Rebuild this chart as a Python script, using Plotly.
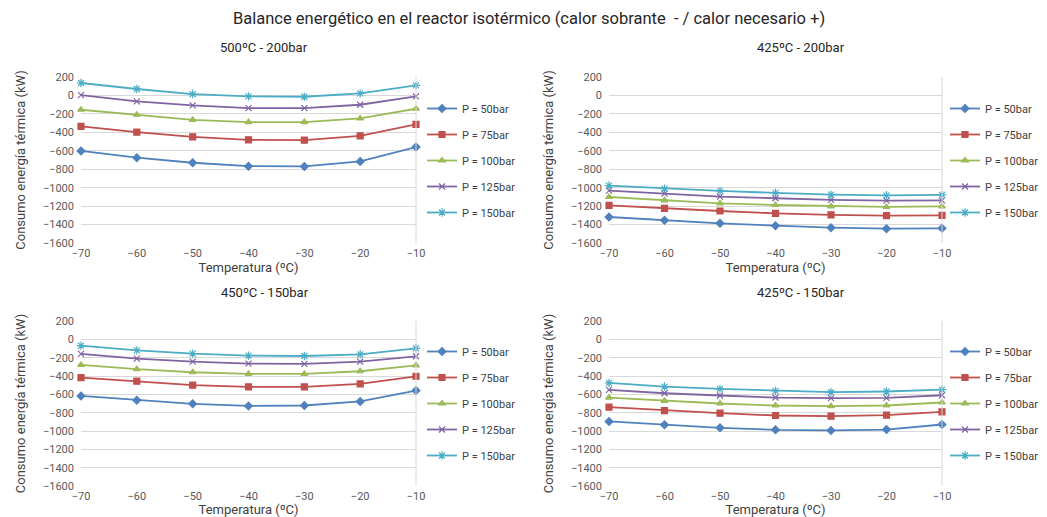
import plotly.graph_objects as go

W, H = 1047, 517

temperaturas = [-70, -60, -50, -40, -30, -20, -10]
presiones = ["P = 50bar", "P = 75bar", "P = 100bar", "P = 125bar", "P = 150bar"]

# 500ºC - 200bar
c500_200_p50 = [-602, -675, -730, -767, -770, -716, -560]
c500_200_p75 = [-335, -398, -449, -481, -485, -438, -314]
c500_200_p100 = [-155, -209, -264, -289, -289, -249, -144]
c500_200_p125 = [4, -64, -108, -137, -137, -101, -10]
c500_200_p150 = [135, 70, 15, -10, -14, 22, 109]

# 425ºC - 200bar
c425_200_p50 = [-1318, -1354, -1387, -1412, -1434, -1445, -1441]
c425_200_p75 = [-1191, -1224, -1253, -1278, -1296, -1304, -1300]
c425_200_p100 = [-1101, -1137, -1170, -1188, -1202, -1209, -1202]
c425_200_p125 = [-1032, -1064, -1097, -1115, -1133, -1140, -1137]
c425_200_p150 = [-977, -1010, -1035, -1057, -1075, -1083, -1079]

# 450ºC - 150bar
c450_150_p50 = [-617, -664, -704, -726, -722, -678, -559]
c450_150_p75 = [-417, -457, -500, -519, -519, -486, -403]
c450_150_p100 = [-279, -326, -359, -377, -377, -348, -283]
c450_150_p125 = [-159, -210, -243, -265, -268, -243, -185]
c450_150_p150 = [-69, -120, -156, -178, -182, -163, -98]

# 425ºC - 150bar
c425_150_p50 = [-896, -933, -965, -987, -994, -984, -929]
c425_150_p75 = [-740, -777, -806, -831, -838, -827, -791]
c425_150_p100 = [-635, -671, -700, -722, -729, -722, -689]
c425_150_p125 = [-551, -588, -613, -635, -642, -639, -610]
c425_150_p150 = [-475, -515, -540, -562, -577, -569, -548]

paneles = [
    ("500ºC - 200bar", [c500_200_p50, c500_200_p75, c500_200_p100, c500_200_p125, c500_200_p150]),
    ("425ºC - 200bar", [c425_200_p50, c425_200_p75, c425_200_p100, c425_200_p125, c425_200_p150]),
    ("450ºC - 150bar", [c450_150_p50, c450_150_p75, c450_150_p100, c450_150_p125, c450_150_p150]),
    ("425ºC - 150bar", [c425_150_p50, c425_150_p75, c425_150_p100, c425_150_p125, c425_150_p150]),
]

colores = ["#4F81BD", "#C0504D", "#9BBB59", "#8064A2", "#4BACC6"]
simbolos = ["diamond", "square", "triangle-up", "x-thin-open", "asterisk-open"]
tamanos = [6, 6, 6, 6, 7]

# pixel boxes of each plot area (left, right, top, bottom), legend and title spots
cajas = [(81, 416, 77, 243), (609, 942, 77, 243), (81, 416, 321, 486), (609, 942, 321, 486)]
leyendas = [(422, 94), (945, 94), (422, 337), (945, 337)]
titulos_xy = [(264, 47), (801, 47), (265, 292), (801, 292)]

GRIS = "#595959"
fuente = "Roboto"

fig = go.Figure()
layout = {}
anotaciones = []
formas = []

for i, (titulo, series) in enumerate(paneles):
    n = "" if i == 0 else str(i + 1)
    leg = "legend" if i == 0 else "legend" + str(i + 1)
    for k in range(5):
        fig.add_trace(go.Scatter(
            x=temperaturas, y=series[k], name=presiones[k],
            mode="lines+markers",
            line=dict(color=colores[k], width=1.8),
            marker=dict(symbol=simbolos[k], size=tamanos[k], color=colores[k],
                        line=dict(color=colores[k], width=1.2)),
            xaxis="x" + n, yaxis="y" + n, legend=leg, cliponaxis=False,
            legendgroup=str(i) + "_" + str(k),
        ))
    l, r, t, b = cajas[i]
    layout["xaxis" + n] = dict(
        domain=[l / W, r / W], anchor="y" + n, range=[-70, -10],
        tickvals=temperaturas, showgrid=False, zeroline=False, automargin=False,
        ticks="", ticklabelstandoff=2, tickfont=dict(size=11, color=GRIS, family=fuente),
        title=dict(text="Temperatura (ºC)", font=dict(size=13, color="#404040", family=fuente), standoff=1),
    )
    layout["yaxis" + n] = dict(
        domain=[1 - b / H, 1 - t / H], anchor="x" + n, range=[-1600, 200],
        dtick=200, showgrid=True, gridcolor="#D9D9D9", gridwidth=1, automargin=False,
        zeroline=False, ticks="", ticklabelstandoff=6, tickfont=dict(size=11, color=GRIS, family=fuente),
        title=dict(text="Consumo energía térmica (kW)", font=dict(size=13, color="#404040", family=fuente), standoff=14),
    )
    lx, ly = leyendas[i]
    layout[leg] = dict(
        x=lx / W, y=1 - ly / H, xanchor="left", yanchor="top",
        font=dict(size=11, color="#404040", family=fuente),
        bgcolor="rgba(0,0,0,0)", tracegroupgap=7, itemwidth=30,
    )
    tx, ty = titulos_xy[i]
    anotaciones.append(dict(
        text=titulo, x=tx / W, y=1 - ty / H,
        xref="paper", yref="paper", xanchor="center", yanchor="middle",
        showarrow=False, font=dict(size=13, color="#262626", family=fuente),
    ))
    formas.append(dict(
        type="line", xref="x" + n + " domain", yref="y" + n + " domain",
        x0=1, x1=1, y0=0, y1=1, line=dict(color="#D9D9D9", width=1),
    ))

anotaciones.append(dict(
    text="Balance energético en el reactor isotérmico (calor sobrante  - / calor necesario +)",
    x=529 / W, y=1 - 18 / H, xref="paper", yref="paper", xanchor="center", yanchor="middle",
    showarrow=False, font=dict(size=16.5, color="#262626", family=fuente),
))

fig.update_layout(
    width=W, height=H, margin=dict(l=0, r=0, t=0, b=0, autoexpand=False),
    paper_bgcolor="white", plot_bgcolor="white",
    annotations=anotaciones, shapes=formas, **layout,
)

# the page's default body margin would push the figure 8px right and down
fig.write_html("out.html", config={"displayModeBar": False},
               post_script="document.body.style.margin = '0';")
